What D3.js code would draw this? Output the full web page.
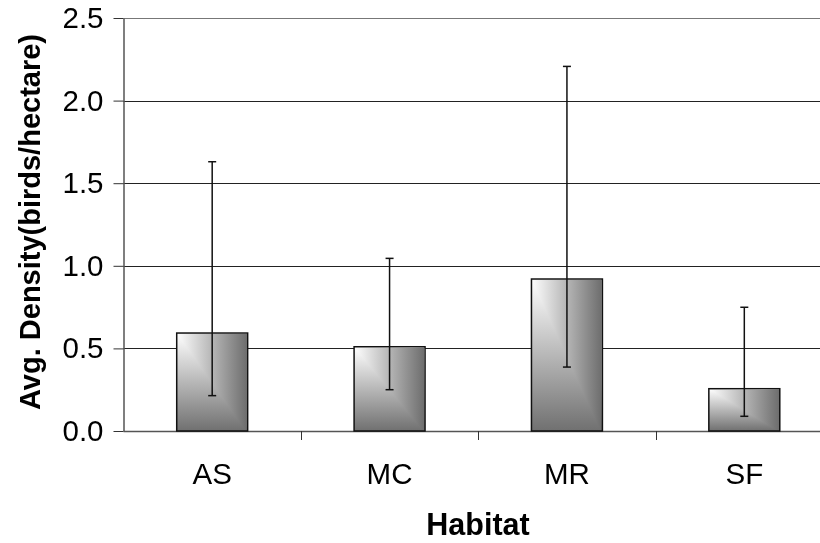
<!DOCTYPE html>
<html>
<head>
<meta charset="utf-8">
<script src="https://cdnjs.cloudflare.com/ajax/libs/d3/7.8.5/d3.min.js"></script>
<style>
  body { margin: 0; background: #fff; }
  svg { display: block; font-family: "Liberation Sans", Arial, sans-serif; }
</style>
</head>
<body>
<div id="chart"></div>
<script>
// Chart data
const habitats = ["AS", "MC", "MR", "SF"];
const density = [0.593, 0.51, 0.92, 0.256];
const errUpper = [1.63, 1.045, 2.207, 0.749];
const errLower = [0.214, 0.25, 0.387, 0.089];
const yTicks = [0, 0.5, 1.0, 1.5, 2.0, 2.5];

const width = 820;
const height = 543;

const svg = d3.select("#chart")
    .append("svg")
    .attr("width", width)
    .attr("height", height);

// Plot area runs past the right edge of the picture, as in the original
const x = d3.scaleBand()
    .domain(habitats)
    .range([123.5, 833])
    .padding(0);

const y = d3.scaleLinear()
    .domain([0, 2.5])
    .range([431, 18]);

// Bar gradients: horizontal one + vertical one, blended with darken
const defs = svg.append("defs");
const gh = defs.append("linearGradient").attr("id", "gh")
    .attr("x1", 0).attr("y1", 0).attr("x2", 1).attr("y2", 0);
gh.append("stop").attr("offset", "0%").attr("stop-color", "#ffffff");
gh.append("stop").attr("offset", "100%").attr("stop-color", "#6c6c6c");
const gv = defs.append("linearGradient").attr("id", "gv")
    .attr("x1", 0).attr("y1", 0).attr("x2", 0).attr("y2", 1);
gv.append("stop").attr("offset", "0%").attr("stop-color", "#ffffff");
gv.append("stop").attr("offset", "100%").attr("stop-color", "#707070");

// Gridlines
svg.append("g")
    .selectAll("line")
    .data(yTicks.slice(1))
    .enter().append("line")
    .attr("x1", x.range()[0])
    .attr("x2", x.range()[1])
    .attr("y1", d => Math.round(y(d)) + 0.5)
    .attr("y2", d => Math.round(y(d)) + 0.5)
    .attr("stroke", d => d === 2.5 ? "#777" : "#222")
    .attr("stroke-width", 1);

// Y axis
const yAxis = svg.append("g")
    .attr("transform", "translate(" + x.range()[0] + ",0)")
    .call(d3.axisLeft(y).tickValues(yTicks).tickFormat(d3.format(".1f"))
        .tickSize(10).tickPadding(10).tickSizeOuter(0));
yAxis.select(".domain").attr("stroke", "#555").attr("stroke-width", 1.5);
yAxis.selectAll(".tick line").attr("stroke", "#333");
yAxis.selectAll("text")
    .attr("font-size", 29.5)
    .attr("font-family", "Liberation Sans, Arial, sans-serif")
    .attr("fill", "#000");

// X axis (ticks at category boundaries)
const xAxisG = svg.append("g");
xAxisG.append("line")
    .attr("x1", x.range()[0]).attr("x2", x.range()[1])
    .attr("y1", y(0) + 0.5).attr("y2", y(0) + 0.5)
    .attr("stroke", "#555").attr("stroke-width", 1.5);
xAxisG.selectAll("line.tick")
    .data(habitats.slice(1))
    .enter().append("line")
    .attr("class", "tick")
    .attr("x1", d => Math.round(x(d)) + 0.5)
    .attr("x2", d => Math.round(x(d)) + 0.5)
    .attr("y1", y(0))
    .attr("y2", y(0) + 9)
    .attr("stroke", "#333");
xAxisG.selectAll("text")
    .data(habitats)
    .enter().append("text")
    .attr("x", d => x(d) + x.bandwidth() / 2)
    .attr("y", 484)
    .attr("text-anchor", "middle")
    .attr("font-size", 29.5)
    .text(d => d);

// Bars
const barW = x.bandwidth() * 0.4;
const bars = svg.append("g")
    .selectAll("g")
    .data(habitats)
    .enter().append("g");

bars.append("rect")
    .attr("x", d => x(d) + (x.bandwidth() - barW) / 2)
    .attr("y", (d, i) => y(density[i]))
    .attr("width", barW)
    .attr("height", (d, i) => y(0) - y(density[i]))
    .attr("fill", "url(#gh)");

bars.append("rect")
    .attr("x", d => x(d) + (x.bandwidth() - barW) / 2)
    .attr("y", (d, i) => y(density[i]))
    .attr("width", barW)
    .attr("height", (d, i) => y(0) - y(density[i]))
    .attr("fill", "url(#gv)")
    .style("mix-blend-mode", "darken")
    .attr("stroke", "#111")
    .attr("stroke-width", 1.5);

// Error bars
const errG = svg.append("g").attr("stroke", "#111").attr("stroke-width", 1.5);
habitats.forEach(function (h, i) {
    const cx = x(h) + x.bandwidth() / 2;
    errG.append("line")
        .attr("x1", cx).attr("x2", cx)
        .attr("y1", y(errUpper[i])).attr("y2", y(errLower[i]));
    errG.append("line")
        .attr("x1", cx - 4).attr("x2", cx + 4)
        .attr("y1", y(errUpper[i])).attr("y2", y(errUpper[i]));
    errG.append("line")
        .attr("x1", cx - 4).attr("x2", cx + 4)
        .attr("y1", y(errLower[i])).attr("y2", y(errLower[i]));
});

// Axis titles
svg.append("text")
    .attr("x", 478)
    .attr("y", 535)
    .attr("text-anchor", "middle")
    .attr("font-size", 30.5)
    .attr("font-weight", "bold")
    .text("Habitat");

svg.append("text")
    .attr("transform", "translate(40,222) rotate(-90)")
    .attr("text-anchor", "middle")
    .attr("font-size", 29)
    .attr("font-weight", "bold")
    .text("Avg. Density(birds/hectare)");
</script>
</body>
</html>
